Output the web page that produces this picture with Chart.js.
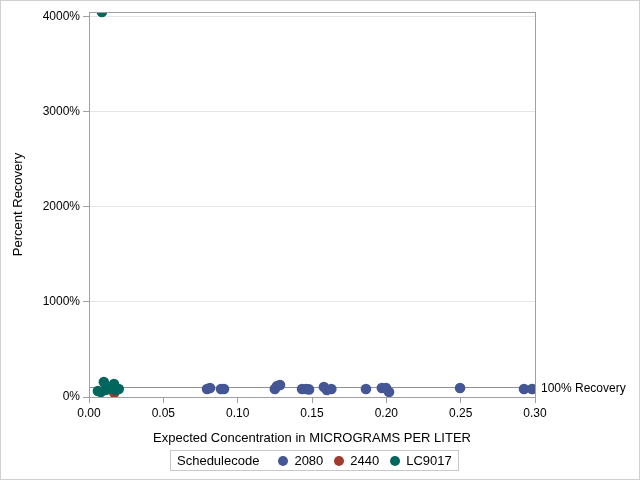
<!DOCTYPE html>
<html>
<head>
<meta charset="utf-8">
<script src="https://cdn.jsdelivr.net/npm/chart.js@4"></script>
<style>
  body { margin: 0; background: #fff; }
  #wrap { position: relative; width: 640px; height: 480px; }
  #legend {
    position: absolute; left: 170px; top: 450px; height: 19px;
    border: 1px solid #c8c8c8; padding: 0 6px 0 6px;
    font: 13px "Liberation Sans", Arial, sans-serif; color: #000;
    display: flex; align-items: center; white-space: nowrap;
  }
  #legend .dot { display: inline-block; width: 10px; height: 10px; border-radius: 50%; margin: 0 6px 0 11px; }
  #legend .dot.first { margin-left: 19px; }
</style>
</head>
<body>
<div id="wrap">
  <canvas id="myChart" width="640" height="480"></canvas>
  <div id="legend"></div>
</div>
<script>
// Datos
var seriesNames = ['2080', '2440', 'LC9017'];
var seriesColors = ['#445694', '#A23A2E', '#01665E'];

var conc2080 = [0.0794, 0.0814, 0.0888, 0.0908, 0.125, 0.1265, 0.1285, 0.1433, 0.146, 0.148, 0.158, 0.160, 0.163, 0.1863, 0.197, 0.1998, 0.2018, 0.2496, 0.2926, 0.298];
var rec2080 = [84, 95, 84, 84, 84, 116, 126, 84, 84, 80, 105, 74, 84, 84, 95, 95, 53, 95, 84, 84];

var conc2440 = [0.017];
var rec2440 = [45];

var concLC9017 = [0.006, 0.008, 0.0087, 0.010, 0.011, 0.0128, 0.0168, 0.018, 0.020];
var recLC9017 = [63, 53, 4050, 158, 74, 84, 137, 74, 84];

var xTicks = [0, 0.05, 0.10, 0.15, 0.20, 0.25, 0.30];
var yTicks = [0, 1000, 2000, 3000, 4000];
var refValue = 100;

function puntos(xs, ys) {
    return xs.map(function (x, i) { return { x: x, y: ys[i] }; });
}

var fuente = '"Liberation Sans", Arial, sans-serif';

// Linea de referencia, marco y borde exterior
var extras = {
    id: 'extras',
    beforeDatasetsDraw: function (chart) {
        var ctx = chart.ctx, a = chart.chartArea;
        var y = Math.round(chart.scales.y.getPixelForValue(refValue)) + 0.5;
        ctx.save();
        ctx.strokeStyle = '#909090';
        ctx.lineWidth = 1;
        ctx.beginPath();
        ctx.moveTo(a.left, y);
        ctx.lineTo(a.right, y);
        ctx.stroke();
        ctx.restore();
    },
    afterDraw: function (chart) {
        var ctx = chart.ctx, a = chart.chartArea;
        var y = chart.scales.y.getPixelForValue(refValue);
        ctx.save();
        ctx.strokeStyle = '#a0a0a0';
        ctx.lineWidth = 1;
        ctx.strokeRect(Math.round(a.left) + 0.5, Math.round(a.top) + 0.5, Math.round(a.right - a.left), Math.round(a.bottom - a.top));
        ctx.fillStyle = '#000';
        ctx.font = '12px ' + fuente;
        ctx.textBaseline = 'middle';
        ctx.fillText(refValue + '% Recovery', a.right + 6, y + 1);
        ctx.strokeStyle = '#d0d0d0';
        ctx.strokeRect(0.5, 0.5, 639, 479);
        ctx.restore();
    }
};

var ctx = document.getElementById('myChart').getContext('2d');
var datos = [puntos(conc2080, rec2080), puntos(conc2440, rec2440), puntos(concLC9017, recLC9017)];

var graficoChart = new Chart(ctx, {
    type: 'scatter',
    data: {
        datasets: seriesNames.map(function (n, i) {
            return {
                label: n,
                data: datos[i],
                backgroundColor: seriesColors[i],
                borderColor: seriesColors[i],
                pointRadius: 5.3,
                pointHoverRadius: 5.3,
                borderWidth: 0,
                clip: 0,
                order: 2 - i
            };
        })
    },
    options: {
        responsive: false,
        animation: false,
        events: [],
        layout: { padding: { left: 11, right: 105, top: 12, bottom: 34 } },
        plugins: { legend: { display: false }, tooltip: { enabled: false } },
        scales: {
            x: {
                type: 'linear',
                min: 0, max: 0.30,
                afterBuildTicks: function (s) { s.ticks = xTicks.map(function (v) { return { value: v }; }); },
                ticks: {
                    color: '#000', font: { family: fuente, size: 12 }, padding: 3, maxRotation: 0,
                    callback: function (v) { return Number(v).toFixed(2); }
                },
                grid: { drawOnChartArea: false, drawTicks: true, tickLength: 6, color: '#a0a0a0' },
                border: { display: false },
                title: { display: true, text: 'Expected Concentration in MICROGRAMS PER LITER', color: '#000', font: { family: fuente, size: 13 }, padding: { top: 6, bottom: 0 } },
                afterFit: function (s) { s.height = 49; }
            },
            y: {
                type: 'linear',
                min: 0, max: 4050,
                afterBuildTicks: function (s) { s.ticks = yTicks.map(function (v) { return { value: v }; }); },
                ticks: {
                    color: '#000', font: { family: fuente, size: 12 }, padding: 3,
                    callback: function (v) { return v + '%'; }
                },
                grid: { color: '#e6e6e6', drawTicks: true, tickLength: 6, tickColor: '#a0a0a0' },
                border: { display: false },
                title: { display: true, text: 'Percent Recovery', color: '#000', font: { family: fuente, size: 13 }, padding: { top: 0, bottom: 0 } },
                afterFit: function (s) { s.width = 78; }
            }
        }
    },
    plugins: [extras]
});

// Leyenda en HTML
var leg = document.getElementById('legend');
var html = '<span>Schedulecode</span>';
seriesNames.forEach(function (n, i) {
    html += '<span class="dot' + (i === 0 ? ' first' : '') + '" style="background:' + seriesColors[i] + '"></span><span>' + n + '</span>';
});
leg.innerHTML = html;
</script>
</body>
</html>
